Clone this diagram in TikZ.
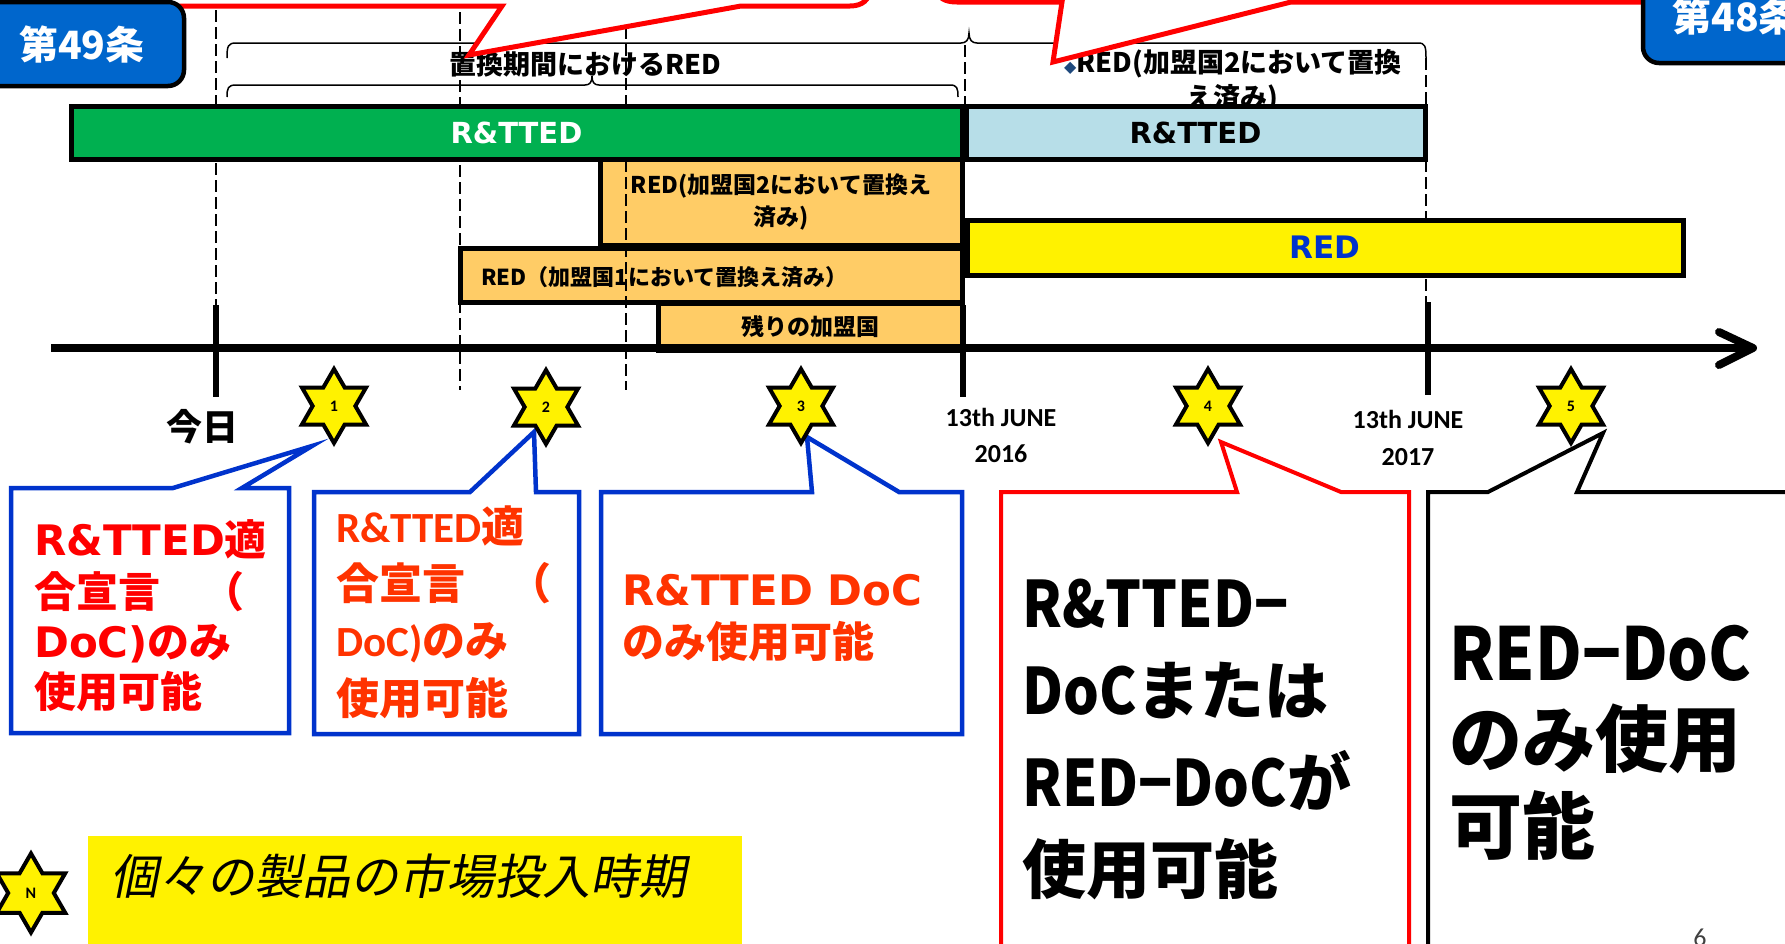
\documentclass[tikz,border=0pt]{standalone}
\usepackage{fontspec}
\setmainfont{Noto Sans CJK JP}
\newfontfamily\dvs{DejaVu Sans}
\newfontfamily\carl{Carlito}
\newfontfamily\cjkit{Noto Sans CJK JP}[FakeSlant=0.2]
\newfontfamily\nsjn{Noto Sans CJK JP}[FakeStretch=0.88]
\usetikzlibrary{shapes.geometric}
\newcommand\fsz[1]{\fontsize{#1}{#1}\selectfont}
\definecolor{boxBlue}{RGB}{0,102,204}
\definecolor{calloutBlue}{RGB}{0,51,204}
\definecolor{barGreen}{RGB}{0,176,80}
\definecolor{barLightBlue}{RGB}{183,222,232}
\definecolor{barOrange}{RGB}{255,204,102}
\definecolor{textRed}{RGB}{255,0,0}
\definecolor{textOrange}{RGB}{255,51,0}
\definecolor{redBlue}{RGB}{0,51,204}
\definecolor{diamondBlue}{RGB}{31,73,125}
\begin{document}
\begin{tikzpicture}[x=1pt,y=-1pt,
  guide/.style={draw=black, line width=1.5pt, dash pattern=on 12pt off 5pt},
  bracel/.style={draw=black, line width=1.5pt},
  bar/.style={draw=black, line width=5pt, outer sep=0pt, inner sep=0pt, font={\bfseries\fsz{23}}},
  bluebox/.style={draw=black, line width=4.5pt, fill=boxBlue, rounded corners=16pt, text=white, font={\bfseries\fsz{39}}, inner sep=0pt},
  topcallout/.style={draw=textRed, line width=5pt, fill=white, line join=miter},
  bcallout/.style={draw=calloutBlue, line width=4.5pt, fill=white, line join=miter},
  starsh/.style={shape=star, star points=6, star point ratio=1.732, minimum size=74pt, inner sep=0pt, draw=black, line width=4pt, fill=yellow, font={\carl\bfseries\fsz{16}}},
  tick/.style={draw=black, line width=6pt},
  datelbl/.style={anchor=base, inner sep=0pt, font={\carl\bfseries\fsz{26}}},
  ctext/.style={anchor=base west, inner sep=0pt, font={\bfseries\fsz{#1}}},
]
\useasboundingbox (0,0) rectangle (1785,943);

% dashed guides (behind bars)
\draw[guide] (216,10) -- (216,305);
\draw[guide] (460,12) -- (460,390);
\draw[guide] (626,10) -- (626,160);
\draw[guide] (965,45) -- (965,106);
\draw[guide] (1426,58) -- (1426,303);

% braces
\draw[bracel] (227,58) .. controls (227,46) and (228,43) .. (236,43) -- (961,43)
  .. controls (966,43) and (969,40) .. (969,33) .. controls (969,40) and (972,43) .. (977,43)
  -- (1418,43) .. controls (1425,43) and (1426,46) .. (1426,58);
\draw[bracel] (227,97) .. controls (227,88) and (228,85) .. (236,85) -- (585,85)
  .. controls (590,85) and (592,82) .. (592,76) .. controls (592,82) and (594,85) .. (599,85)
  -- (950,85) .. controls (957,85) and (958,88) .. (958,97);

% labels above bars
\node[inner sep=0pt, font={\bfseries\fsz{27}}] (tRepl) at (585,64) {置換期間におけるRED};
\node[inner sep=0pt, font={\bfseries\fsz{27}}] (tR2a) at (1233,64) {{\color{diamondBlue}\dvs\fsz{16}◆}RED(加盟国2において置換};
\node[inner sep=0pt, font={\bfseries\fsz{27}}] (tR2b) at (1232,99) {え済み)};

% top red callouts (cut by page edge)
\draw[topcallout] (150,-40) -- (150,6) -- (502,6) -- (469,55) -- (741,6) -- (850,6)
  .. controls (862,6) and (870,0) .. (870,-12) -- (870,-40);
\draw[topcallout] (937,-40) -- (937,-12) .. controls (937,-2) and (945,2) .. (957,2)
  -- (1062,2) -- (1053,62) -- (1291,2) -- (1700,2) -- (1700,-40);

% article boxes
\node[bluebox, minimum width=204pt, minimum height=84pt] (a49) at (82,44) {第49条};
\node[bluebox, minimum width=184pt, minimum height=94pt] (a48) at (1735,16) {第48条};

% bars
\node[bar, fill=barGreen, minimum width=891pt, minimum height=53pt, text=white, font={\dvs\bfseries\fsz{29}}] (gR) at (516.5,132.5) {R\&TTED};
\node[bar, fill=barLightBlue, minimum width=459pt, minimum height=53pt, font={\dvs\bfseries\fsz{29}}] (lbR) at (1195.5,132.5) {R\&TTED};
\node[bar, fill=barOrange, minimum width=362pt, minimum height=86pt, align=center, font={\bfseries\fontsize{23}{32}\selectfont}] (o2) at (781,202) {RED(加盟国2において置換え\\済み)};
\node[bar, fill=barOrange, minimum width=502pt, minimum height=54pt] (o1) at (711,275) {};
\node[anchor=west, inner sep=0pt, font={\bfseries\fsz{22}}] (o1t) at (481,277) {RED（加盟国1において置換え済み）};
\node[bar, fill=barOrange, minimum width=304pt, minimum height=47pt] (o3) at (810,327) {残りの加盟国};
\node[bar, fill=yellow, minimum width=716pt, minimum height=55pt, text=redBlue, font={\dvs\bfseries\fsz{31}}] (yR) at (1325,247.5) {RED};

% guide over orange bars
\draw[guide] (626,160) -- (626,390);

% time axis
\coordinate (axL) at (51,348);
\coordinate (axR) at (1748,348);
\coordinate (axTip) at (1753,348);
\draw[line width=8pt] (axL) -- (axR);
\draw[line width=8pt, line cap=round, line join=round] (1719,332) -- (axTip) -- (1719,365);

% ticks
\coordinate (tk0a) at (216,305); \coordinate (tk0b) at (216,397);
\coordinate (tk1a) at (963,305); \coordinate (tk1b) at (963,397);
\coordinate (tk2a) at (1428,302); \coordinate (tk2b) at (1428,395);
\draw[tick] (tk0a) -- (tk0b);
\draw[tick] (tk1a) -- (tk1b);
\draw[tick] (tk2a) -- (tk2b);

% axis labels
\node[inner sep=0pt, font={\bfseries\fsz{36}}] (today) at (202,427) {今日};
\node[datelbl] (d1a) at (1001,426) {13th JUNE};
\node[datelbl] (d1b) at (1001,462) {2016};
\node[datelbl] (d2a) at (1408,428) {13th JUNE};
\node[datelbl] (d2b) at (1408,465) {2017};

% callouts
\draw[bcallout] (11,488) -- (173,488) -- (312,446) -- (242,488) -- (289,488) -- (289,733) -- (11,733) -- cycle;
\draw[bcallout] (314,492) -- (470,492) -- (534,432) -- (536,492) -- (579,492) -- (579,734) -- (314,734) -- cycle;
\draw[bcallout] (601,492) -- (812,492) -- (807,437) -- (899,492) -- (962,492) -- (962,734) -- (601,734) -- cycle;
\draw[draw=textRed, line width=4pt, fill=white] (1001,492) -- (1237,492) -- (1221,442) -- (1341,492) -- (1409,492) -- (1409,970) -- (1001,970) -- cycle;
\draw[draw=black, line width=4pt, fill=white] (1428,492) -- (1488,492) -- (1603,433) -- (1577,492) -- (1810,492) -- (1810,970) -- (1428,970) -- cycle;

% stars
\node[starsh] (s1) at (334,406) {1};
\node[starsh] (s2) at (546,407) {2};
\node[starsh] (s3) at (801,406) {3};
\node[starsh] (s4) at (1208,406) {4};
\node[starsh] (s5) at (1571,406) {5};

% callout texts
\node[ctext=42, text=textRed] (c1a) at (34,555) {{\dvs R\&TTED}適};
\node[ctext=42, text=textRed] (c1b) at (34,607) {合宣言　（};
\node[ctext=42, text=textRed] (c1c) at (34,657) {{\dvs DoC)}のみ};
\node[ctext=42, text=textRed] (c1d) at (34,707) {使用可能};

\node[ctext=43, text=textOrange] (c2a) at (336,542) {{\carl R\&TTED}適};
\node[ctext=43, text=textOrange] (c2b) at (336,599) {合宣言　（};
\node[ctext=43, text=textOrange] (c2c) at (336,656) {{\carl DoC)}のみ};
\node[ctext=43, text=textOrange] (c2d) at (336,714) {使用可能};

\node[ctext=42, text=textOrange] (c3a) at (622,605) {{\dvs R\&TTED DoC}};
\node[ctext=42, text=textOrange] (c3b) at (622,657) {のみ使用可能};

\node[ctext=64] (c4a) at (1022,627) {{\nsjn R\&TTED−}};
\node[ctext=64] (c4b) at (1022,714) {{\nsjn DoC}または};
\node[ctext=64] (c4c) at (1022,806) {{\nsjn RED−DoC}が};
\node[ctext=64] (c4d) at (1022,893) {使用可能};

\node[ctext=73] (c5a) at (1449,680) {{\nsjn RED−DoC}};
\node[ctext=73] (c5b) at (1449,766) {のみ使用};
\node[ctext=73] (c5c) at (1449,853) {可能};

% legend
\node[starsh, minimum size=79pt] (sN) at (31,893) {N};
\node[fill=yellow, minimum width=654pt, minimum height=124pt, inner sep=0pt, anchor=north west] (leg) at (88,836) {};
\node[anchor=base west, inner sep=0pt, font={\cjkit\fsz{48}}] (legt) at (110,894) {個々の製品の市場投入時期};

% page number
\node[anchor=north, inner sep=0pt, text=black!75, font={\carl\fsz{26}}] (pg) at (1700,929) {6};
\end{tikzpicture}
\end{document}
